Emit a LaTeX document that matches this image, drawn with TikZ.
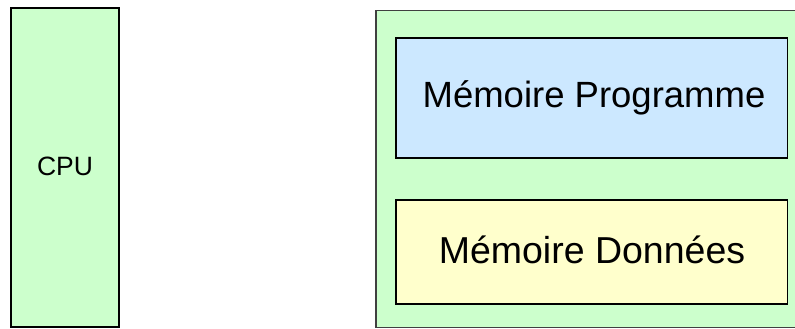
\documentclass[tikz,border=0pt]{standalone}
\usepackage{fontspec}
\setmainfont{Liberation Sans}
\definecolor{bggreen}{HTML}{CCFFCC}
\definecolor{bgblue}{HTML}{CCE8FF}
\definecolor{bgyellow}{HTML}{FFFFCC}
\begin{document}
\begin{tikzpicture}[x=1pt,y=-1pt,
  boxstyle/.style={draw=black,line width=1.8pt},
  lbl/.style={text=black}]
\useasboundingbox (0,0) rectangle (795,329);
\path[boxstyle,fill=bggreen] (11,8) rectangle (119,327);
\node[font=\fontsize{26.5}{30}\selectfont] (cpu) at (65,166) {CPU};
\path[draw=black!75,line width=1.5pt,fill=bggreen] (376,10.5) rectangle (795.5,327.5);
\path[boxstyle,fill=bgblue] (396,38) rectangle (787.5,158);
\node[lbl,font=\fontsize{36.5}{40}\selectfont] (prog) at (594,98) {Mémoire Programme};
\path[boxstyle,fill=bgyellow] (396,200) rectangle (787.5,304);
\node[lbl,font=\fontsize{37.5}{40}\selectfont] (data) at (592,250) {Mémoire Données};
\end{tikzpicture}
\end{document}
